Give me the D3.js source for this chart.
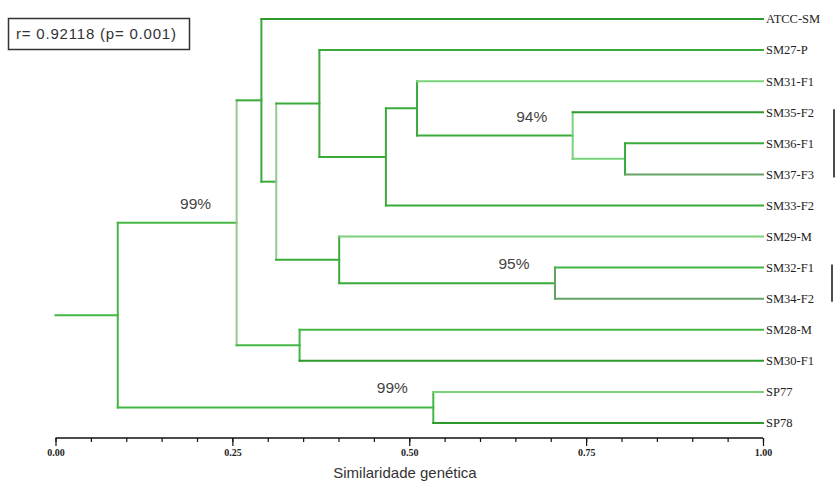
<!DOCTYPE html>
<html>
<head>
<meta charset="utf-8">
<script src="https://cdn.jsdelivr.net/npm/d3@7"></script>
<style>
  html, body { margin: 0; padding: 0; background: #fff; }
  svg { display: block; }
</style>
</head>
<body>
<svg id="chart" width="837" height="483"></svg>
<script>
// ---- DATA ----
const leaves = ["ATCC-SM", "SM27-P", "SM31-F1", "SM35-F2", "SM36-F1", "SM37-F3", "SM33-F2",
                "SM29-M", "SM32-F1", "SM34-F2", "SM28-M", "SM30-F1", "SP77", "SP78"];
// merges: node name, left child, right child, similarity level
const mergeNames = ["n1", "n2", "n3", "n4", "n5", "n6", "n7", "n8", "n9", "n10", "n11", "n12", "n13"];
const mergeLeft  = ["SM36-F1", "SM35-F2", "SM32-F1", "SP77", "SM31-F1", "n5", "SM29-M", "SM27-P", "SM28-M", "n8", "ATCC-SM", "n11", "n12"];
const mergeRight = ["SM37-F3", "n1", "SM34-F2", "SP78", "n2", "SM33-F2", "n3", "n6", "SM30-F1", "n7", "n10", "n9", "n4"];
const mergeSim   = [0.805, 0.731, 0.706, 0.534, 0.511, 0.467, 0.401, 0.373, 0.345, 0.312, 0.291, 0.256, 0.088];
const bootNodes  = ["n12", "n2", "n3", "n4"];
const bootValues = ["99%", "94%", "95%", "99%"];
const tickValues = [0, 0.25, 0.5, 0.75, 1.0];
const tickLabels = ["0.00", "0.25", "0.50", "0.75", "1.00"];
const statText   = "r= 0.92118 (p= 0.001)";
const axisTitle  = "Similaridade genética";
// groups of leaves marked with a vertical bar on the right
const markGroups = [["SM35-F2", "SM37-F3"], ["SM32-F1", "SM34-F2"]];

// ---- STYLE ----
const C = {dark: "#2c9a2c", mid: "#3aab3a", green: "#44b644", light: "#7ad27a", grey: "#66a266", pale: "#95c995"};
const branchColor = {
  "ATCC-SM": C.dark, "SM27-P": C.mid, "SM31-F1": C.light, "SM35-F2": C.dark, "SM36-F1": C.mid,
  "SM37-F3": C.grey, "SM33-F2": C.mid, "SM29-M": C.light, "SM32-F1": C.green, "SM34-F2": C.grey,
  "SM28-M": C.green, "SM30-F1": C.dark, "SP77": C.light, "SP78": C.dark,
  "n1": C.light, "n2": C.mid, "n3": C.mid, "n4": C.green, "n5": C.mid, "n6": C.mid, "n7": C.mid,
  "n8": C.mid, "n9": C.green, "n10": C.mid, "n11": C.mid, "n12": C.green, "n13": C.green
};
const vertColor = {
  "n1": C.mid, "n2": C.light, "n3": C.grey, "n4": C.green, "n5": C.mid, "n6": C.mid, "n7": C.mid,
  "n8": C.mid, "n9": C.green, "n10": C.pale, "n11": C.mid, "n12": C.pale, "n13": C.green
};

// ---- BUILD TREE ----
const nodes = {};
leaves.forEach(l => nodes[l] = {name: l, sim: 1.0, children: null});
mergeNames.forEach((n, i) => {
  nodes[n] = {name: n, sim: mergeSim[i], children: [nodes[mergeLeft[i]], nodes[mergeRight[i]]]};
});
const root = nodes[mergeNames[mergeNames.length - 1]];

const svg = d3.select("#chart");
const x = d3.scaleLinear().domain([0, 1]).range([55.5, 763]);
const y = d3.scalePoint().domain(leaves).range([19, 423]);

function setY(nd) {
  if (!nd.children) { nd.y = y(nd.name); return nd.y; }
  const ys = nd.children.map(setY);
  nd.y = d3.mean(ys);
  return nd.y;
}
setY(root);

const g = svg.append("g").attr("fill", "none").attr("stroke-width", 2).attr("stroke-linecap", "square");

function draw(nd) {
  if (!nd.children) return;
  g.append("line")
    .attr("x1", x(nd.sim)).attr("x2", x(nd.sim))
    .attr("y1", nd.children[0].y).attr("y2", nd.children[1].y)
    .attr("stroke", vertColor[nd.name]);
  nd.children.forEach(ch => {
    g.append("line")
      .attr("x1", x(nd.sim)).attr("x2", x(ch.sim))
      .attr("y1", ch.y).attr("y2", ch.y)
      .attr("stroke", branchColor[ch.name]);
    draw(ch);
  });
}
// root stub
g.append("line").attr("x1", x(0)).attr("x2", x(root.sim))
  .attr("y1", root.y).attr("y2", root.y).attr("stroke", branchColor[root.name]);
draw(root);

// leaf labels
svg.append("g").selectAll("text").data(leaves).join("text")
  .attr("x", x(1) + 3).attr("y", d => y(d)).attr("dy", "0.35em")
  .attr("font-family", "'Liberation Serif', 'Times New Roman', serif")
  .attr("font-size", 12.5).attr("fill", "#222")
  .text(d => d);

// bootstrap labels
svg.append("g").selectAll("text").data(bootNodes).join("text")
  .attr("x", d => x(nodes[d].sim) - 41).attr("y", d => nodes[d].y - 14)
  .attr("text-anchor", "middle")
  .attr("font-family", "'Liberation Sans', Arial, sans-serif")
  .attr("font-size", 15.5).attr("fill", "#444")
  .text((d, i) => bootValues[i]);

// group marks
svg.append("g").selectAll("line").data(markGroups).join("line")
  .attr("x1", (d, i) => i === 0 ? 834 : 832).attr("x2", (d, i) => i === 0 ? 834 : 832)
  .attr("y1", d => y(d[0]) - 3).attr("y2", d => y(d[1]) + 3)
  .attr("stroke", "#111").attr("stroke-width", 1.5);

// axis
const axisY = 438;
const axis = d3.axisBottom(x).tickValues(d3.range(0, 1.0001, 0.05)).tickSize(4).tickFormat("");
const ag = svg.append("g").attr("transform", `translate(0,${axisY})`).call(axis);
ag.select(".domain").attr("d", `M${x(0)},0H${x(1)}`).attr("stroke", "#111").attr("stroke-width", 1.5);
ag.selectAll(".tick line").attr("stroke", "#111").attr("stroke-width", 1.2);
const ag2 = svg.append("g").attr("transform", `translate(0,${axisY})`)
  .call(d3.axisBottom(x).tickValues(tickValues).tickSize(8).tickFormat((d, i) => tickLabels[i]));
ag2.select(".domain").remove();
ag2.selectAll(".tick line").attr("stroke", "#111").attr("stroke-width", 1.2);
ag2.selectAll(".tick text")
  .attr("font-family", "'Liberation Serif', 'Times New Roman', serif")
  .attr("font-size", 10).attr("font-weight", "bold").attr("fill", "#222").attr("y", 11);

// axis title
svg.append("text").attr("x", 405).attr("y", 478).attr("text-anchor", "middle")
  .attr("font-family", "'Liberation Sans', Arial, sans-serif")
  .attr("font-size", 15).attr("fill", "#333").text(axisTitle);

// stat box
svg.append("rect").attr("x", 8.5).attr("y", 18.5).attr("width", 181).attr("height", 31)
  .attr("fill", "#fff").attr("stroke", "#333").attr("stroke-width", 1.5);
svg.append("text").attr("x", 16).attr("y", 38.5)
  .attr("font-family", "'Liberation Sans', Arial, sans-serif")
  .attr("font-size", 15).attr("letter-spacing", 0.8).attr("fill", "#333").text(statText);
</script>
</body>
</html>
